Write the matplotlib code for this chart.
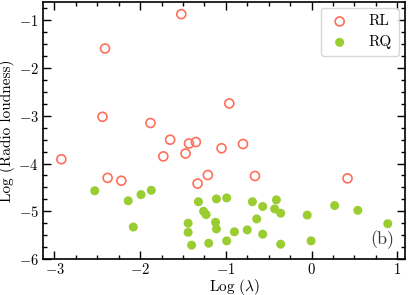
import matplotlib
matplotlib.use("Agg")
import matplotlib.pyplot as plt
from matplotlib.ticker import MultipleLocator

plt.rcParams['font.family'] = 'serif'
plt.rcParams['font.serif'] = ['cmr10', 'DejaVu Serif']
plt.rcParams['mathtext.fontset'] = 'cm'
plt.rcParams['axes.formatter.use_mathtext'] = True
plt.rcParams['axes.unicode_minus'] = True

rl_x = [-2.92, -2.44, -2.41, -2.38, -2.22, -1.88, -1.73, -1.65, -1.52, -1.47,
        -1.43, -1.35, -1.33, -1.21, -1.05, -0.96, -0.80, -0.66, 0.42]
rl_y = [-3.91, -3.02, -1.59, -4.30, -4.36, -3.15, -3.85, -3.50, -0.87, -3.79,
        -3.58, -3.55, -4.42, -4.24, -3.68, -2.74, -3.59, -4.26, -4.31]

rq_x = [-2.53, -2.14, -2.08, -1.99, -1.87, -1.32, -1.26, -1.23, -1.44, -1.44,
        -1.40, -1.12, -1.11, -1.11, -0.99, -1.20, -0.99, -0.90, -0.75, -0.69,
        -0.57, -0.64, -0.57, -0.41, -0.43, -0.36, -0.36, -0.05, -0.005, 0.27,
        0.54, 0.89]
rq_y = [-4.57, -4.78, -5.33, -4.65, -4.56, -4.80, -5.00, -5.07, -5.25, -5.44,
        -5.71, -5.23, -5.37, -4.74, -4.72, -5.67, -5.62, -5.43, -5.39, -4.80,
        -4.90, -5.16, -5.48, -4.76, -4.95, -5.04, -5.69, -5.08, -5.62, -4.88,
        -4.98, -5.26]

fig = plt.figure(figsize=(4.09, 2.95), dpi=100)
ax = fig.add_axes([0.106, 0.122, 0.884, 0.872])

ax.scatter(rl_x, rl_y, s=42, facecolors='none', edgecolors='#ff6f5a',
           linewidths=1.2, label='RL', zorder=3)
ax.scatter(rq_x, rq_y, s=42, color='#9acd32', edgecolors='none',
           label='RQ', zorder=3)

ax.set_xlim(-3.13, 1.09)
ax.set_ylim(-6.0, -0.61)
ax.xaxis.set_major_locator(MultipleLocator(1))
ax.xaxis.set_minor_locator(MultipleLocator(0.25))
ax.yaxis.set_major_locator(MultipleLocator(1))
ax.yaxis.set_minor_locator(MultipleLocator(0.25))
ax.tick_params(which='both', direction='in', top=True, right=True,
               labelsize=10.5, width=1.0)
ax.tick_params(which='major', length=6)
ax.tick_params(axis='x', which='major', pad=2)
ax.tick_params(which='minor', length=3)
for s in ax.spines.values():
    s.set_linewidth(1.2)

ax.set_xlabel(r'Log $(\lambda)$', fontsize=11)
ax.xaxis.set_label_coords(0.53, -0.068)
ax.xaxis.label.set_va('top')
ax.set_ylabel('Log (Radio loudness)', fontsize=11, labelpad=2)

ax.legend(loc='upper right', fontsize=11, frameon=True, borderpad=0.45,
          handletextpad=1.1, labelspacing=0.45, handlelength=1.6,
          borderaxespad=0.4)
ax.text(0.97, 0.04, '(b)', transform=ax.transAxes, ha='right', va='bottom',
        fontsize=13, color='#333333')

fig.savefig('out.png', dpi=100)
